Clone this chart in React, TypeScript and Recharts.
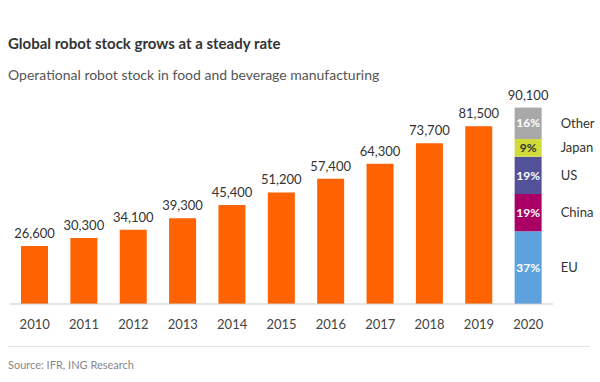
import React from 'react';
import { ComposedChart, Bar, XAxis, YAxis, LabelList } from 'recharts';

// Robot stock by year (2020 is split by region)
const years = ['2010', '2011', '2012', '2013', '2014', '2015', '2016', '2017', '2018', '2019', '2020'];
const totals = [26600, 30300, 34100, 39300, 45400, 51200, 57400, 64300, 73700, 81500, null];
const total2020 = 90100;
const regions = ['EU', 'China', 'US', 'Japan', 'Other'];
const regionShares = [37, 19, 19, 9, 16];
const regionColors = ['#5DA2DE', '#AA0066', '#525199', '#D1DB3C', '#A8A8A8'];
const regionTextColors = ['#fff', '#fff', '#fff', '#333', '#fff'];

const FONT = 'Lato, "Noto Sans", sans-serif';
const ORANGE = '#FF6200';

const data = years.map((year, i) => {
  const row: any = { year, total: totals[i] };
  if (year === '2020') {
    regions.forEach((r, j) => {
      row[r] = (total2020 * regionShares[j]) / 100;
    });
  }
  return row;
});

const fmt = (v: number) => v.toLocaleString('en-US');

const TopLabel = (props: any) => {
  const { x, y, width, value, height } = props;
  if (value == null || !height) return null;
  return (
    <text x={x + width / 2} y={y - 8} textAnchor="middle" fontSize={13} fill="#333" fontFamily={FONT}>
      {fmt(value)}
    </text>
  );
};

const makeSegLabel = (j: number) => (props: any) => {
  const { x, y, width, height } = props;
  if (!height || Math.abs(height) < 1) return null;
  const cy = y + height / 2;
  return (
    <g>
      <text x={x + width / 2} y={cy} dy="0.35em" textAnchor="middle" fontSize={12} fontWeight={700}
        fill={regionTextColors[j]} fontFamily={FONT}>
        {regionShares[j]}%
      </text>
      <text x={x + width + 19} y={cy} dy="0.35em" textAnchor="start" fontSize={13} fill="#333" fontFamily={FONT}>
        {regions[j]}
      </text>
      {j === regions.length - 1 && (
        <text x={x + width / 2} y={y - 8} textAnchor="middle" fontSize={13} fill="#333" fontFamily={FONT}>
          {fmt(total2020)}
        </text>
      )}
    </g>
  );
};

export default function App() {
  return (
    <div style={{ position: 'absolute', left: 0, top: 0, width: 600, height: 382, background: '#fff', fontFamily: FONT }}>
      <div style={{ position: 'absolute', left: 8, top: 34, fontSize: 15, fontWeight: 700, color: '#333' }}>
        Global robot stock grows at a steady rate
      </div>
      <div style={{ position: 'absolute', left: 8, top: 66, fontSize: 14, color: '#555' }}>
        Operational robot stock in food and beverage manufacturing
      </div>
      <div style={{ position: 'absolute', left: 0, top: 0 }}>
        <ComposedChart width={600} height={382} data={data}
          margin={{ top: 86, right: 47, bottom: 48, left: 10 }} barCategoryGap={22}>
          <XAxis dataKey="year" tickLine={false} axisLine={{ stroke: '#c8c8c8' }} tickMargin={10}
            tick={{ fontSize: 13, fill: '#444', fontFamily: FONT }} interval={0} />
          <YAxis hide domain={[0, 100000]} />
          <Bar dataKey="total" stackId="s" fill={ORANGE} barSize={27} isAnimationActive={false}>
            <LabelList dataKey="total" content={TopLabel} />
          </Bar>
          {regions.map((r, j) => (
            <Bar key={r} dataKey={r} stackId="s" fill={regionColors[j]} barSize={27} isAnimationActive={false}>
              <LabelList dataKey={r} content={makeSegLabel(j)} />
            </Bar>
          ))}
        </ComposedChart>
      </div>
      <div style={{ position: 'absolute', left: 8, top: 346, width: 582, height: 1, background: '#e3e3e3' }} />
      <div style={{ position: 'absolute', left: 8, top: 358, fontSize: 11, color: '#888' }}>
        Source: IFR, ING Research
      </div>
    </div>
  );
}
